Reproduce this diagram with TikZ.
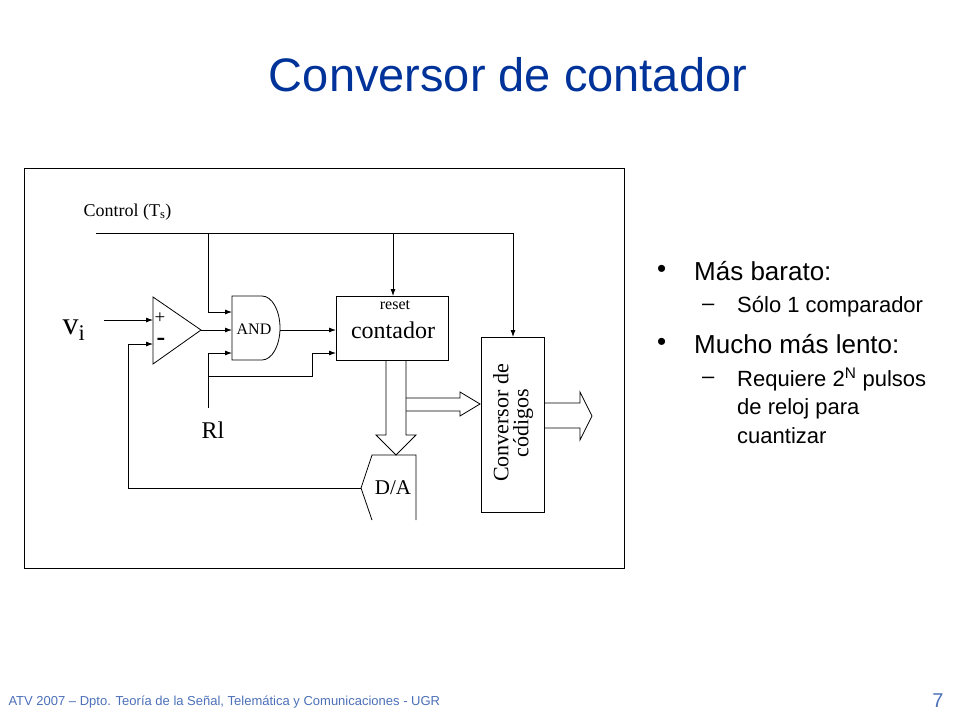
\documentclass[tikz,border=0pt]{standalone}
\usepackage{fontspec}
\setmainfont{Liberation Serif}
\newfontfamily\arial{Liberation Sans}
\usetikzlibrary{arrows.meta}
\definecolor{ttl}{RGB}{0,51,153}
\begin{document}
\begin{tikzpicture}[x=1pt,y=-1pt,
  ln/.style={line width=0.8pt},
  ar/.style={ln,-{Latex[length=7pt,width=5pt]}},
  box/.style={draw,line width=0.8pt,fill=white}]
\useasboundingbox (0,0) rectangle (960,720);
\node[ttl,font=\arial\fontsize{47}{52}\selectfont] (title) at (508,75) {Conversor de contador};
\draw[ln] (24,168) rectangle (624,568);
\node[font=\fontsize{18}{20}\selectfont,anchor=west] (ctl) at (80,212) {Control (T\textsubscript{s})};
% control lines
\coordinate (c0) at (96,233); \coordinate (c1) at (208,233); \coordinate (c2) at (393,233); \coordinate (c3) at (513,233);
\draw[ln] (c0) -- (c3);
% comparator
\draw[ln] (153,297) -- (201,330) -- (153,364) -- cycle;
\coordinate (cout) at (201,330);
\node[font=\fontsize{19}{20}\selectfont] (plus) at (160,318) {+};
\node[font=\fontsize{26}{20}\selectfont\bfseries] (minus) at (161,342) {-};
\node[font=\fontsize{32}{34}\selectfont] (vi) at (74,330) {v\textsubscript{i}};
\coordinate (vin) at (104,320);
\draw[ar] (vin) -- (153,320);
% AND gate
\draw[ln] (262,296) -- (232,296) -- (232,360) -- (262,360) arc[start angle=-90,end angle=90,x radius=18,y radius=-32] ;
\node[font=\fontsize{16}{18}\selectfont] (and) at (254,329) {AND};
\draw[ar] (c1) |- (232,312);
\draw[ar] (cout) -- (232,330);
% counter
\node[box,minimum width=112pt,minimum height=64pt,anchor=north west,inner sep=0] (cnt) at (336,296) {};
\node[font=\fontsize{16}{18}\selectfont] (rst) at (395,305) {reset};
\node[font=\fontsize{24}{26}\selectfont] (ctr) at (393,330) {contador};
\draw[ar] (c2) -- (393,296);
\draw[ar] (280,330) -- (336,330);
% Rl
\node[font=\fontsize{24}{26}\selectfont] (rl) at (213,430) {Rl};
\coordinate (r0) at (208,408);
\draw[ar] (r0) |- (232,353);
\draw[ar] (208,376) -- (312,376) |- (336,353);
% conversor
\node[box,minimum width=63pt,minimum height=175pt,anchor=north west,inner sep=0] (conv) at (481,337) {};
\node[rotate=90,align=center,font=\fontsize{22}{20}\selectfont] (convt) at (513,423) {Conversor de\\códigos};
\draw[ar] (c3) -- (513,337);
% D/A
\draw[ln] (416,520) -- (416,455) -- (372,455) -- (361,488) -- (372,520);
\node[font=\fontsize{21}{22}\selectfont] (da) at (393,488) {D/A};
% feedback
\draw[ar] (361,488) -- (128,488) -- (128,344) -- (153,344);
% hollow arrows
\draw[ln] (386,360) -- (386,435) -- (376,435) -- (396,455) -- (416,435) -- (406,435) -- (406,360);
\draw[ln] (406,398) -- (460,398) -- (460,392) -- (480,404) -- (460,416) -- (460,411) -- (406,411);
\draw[ln] (544,403) -- (580,403) -- (580,392) -- (592,416) -- (580,440) -- (580,428) -- (544,428);
% bullets
\begin{scope}[every node/.style={anchor=west,inner sep=0}]
\node[font=\arial\fontsize{26}{28}\selectfont] (b1) at (657,271) {•};
\node[font=\arial\fontsize{26}{28}\selectfont] (t1) at (694,271) {Más barato:};
\node[font=\arial\fontsize{22}{24}\selectfont] (d1) at (702,307) {–};
\node[font=\arial\fontsize{22}{24}\selectfont] (t2) at (737,307) {Sólo 1 comparador};
\node[font=\arial\fontsize{26}{28}\selectfont] (b2) at (657,344) {•};
\node[font=\arial\fontsize{26}{28}\selectfont] (t3) at (694,344) {Mucho más lento:};
\node[font=\arial\fontsize{22}{24}\selectfont] (d2) at (702,380) {–};
\node[font=\arial\fontsize{22}{28.5}\selectfont,align=left,anchor=north west] (t4) at (737,368) {Requiere 2\textsuperscript{N} pulsos\\de reloj para\\cuantizar};
\end{scope}
\node[anchor=west,ttl!70,font=\arial\fontsize{13}{15}\selectfont] (foot) at (5,702) {ATV 2007 – Dpto. Teoría de la Señal, Telemática y Comunicaciones - UGR};
\node[ttl!70,font=\arial\fontsize{20}{22}\selectfont] (pg) at (938,701) {7};
\end{tikzpicture}
\end{document}
